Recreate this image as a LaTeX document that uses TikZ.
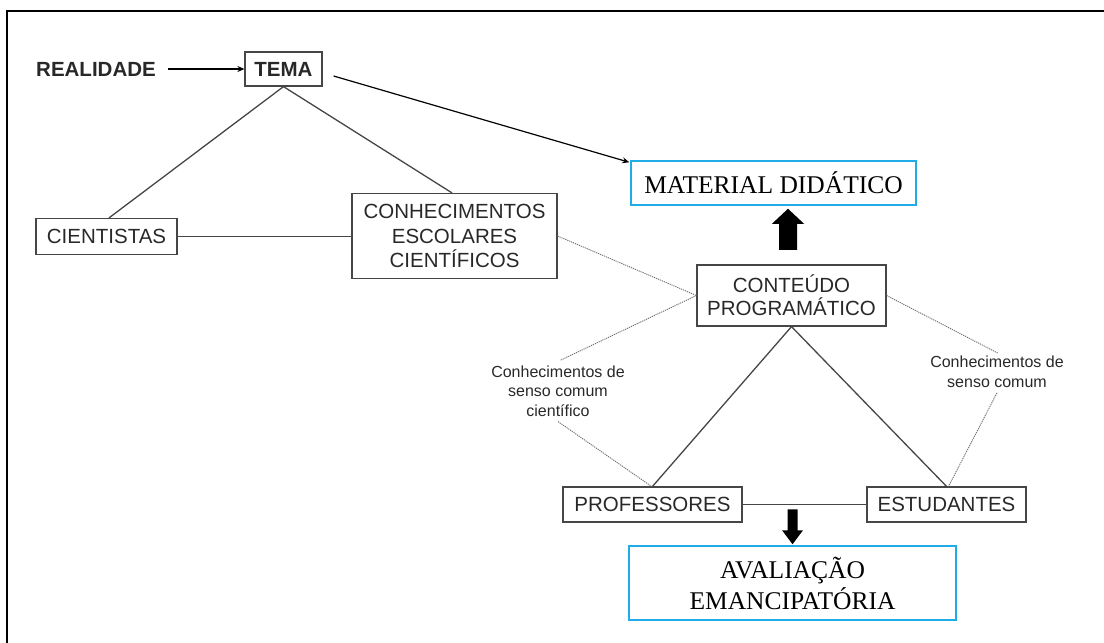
\documentclass[tikz,border=0pt]{standalone}
\usepackage{fontspec}
\setmainfont{Liberation Serif}
\setsansfont{Liberation Sans}
\usetikzlibrary{arrows.meta,calc}
\definecolor{boxline}{RGB}{70,70,70}
\definecolor{skyline}{RGB}{32,172,230}
\definecolor{inkgray}{RGB}{40,40,40}
\definecolor{dotgray}{RGB}{110,110,110}
\begin{document}
\begin{tikzpicture}[x=1pt,y=-1pt,
  plainbox/.style={draw=boxline,line width=1.2pt,inner sep=0pt,align=center,
    text=inkgray,font=\sffamily\fontsize{20.5}{24.5}\selectfont},
  bluebox/.style={draw=skyline,line width=1.5pt,inner sep=0pt,align=center,
    text=black,font=\rmfamily\fontsize{25.5}{31}\selectfont},
  smalllabel/.style={inner sep=2pt,align=center,text=inkgray,
    font=\sffamily\fontsize{16}{19.5}\selectfont},
  solidlink/.style={draw=boxline,line width=1.3pt},
  dotlink/.style={draw=dotgray,line width=0.9pt,dash pattern=on 1.2pt off 0.9pt},
  thinarrow/.style={draw=black,line width=1.2pt,-{Stealth[length=7pt,width=6pt]}}]
\useasboundingbox (0,0) rectangle (1104,643);
% page frame (top and left edges)
\draw[line width=2pt,black] (7,643) -- (7,11) -- (1104,11);

% nodes
\node[inner sep=0pt,font=\sffamily\bfseries\fontsize{20.5}{24}\selectfont,text=inkgray]
  (real) at (96,69) {REALIDADE};
\node[plainbox,font=\sffamily\bfseries\fontsize{20.5}{24}\selectfont,
  minimum width=77pt,minimum height=34pt] (tema) at (283.5,69) {TEMA};
\node[plainbox,minimum width=141pt,minimum height=36pt] (cient) at (106.5,236.5) {CIENTISTAS};
\node[plainbox,minimum width=205pt,minimum height=85pt] (conh) at (454.5,236)
  {CONHECIMENTOS\\ESCOLARES\\CIENTÍFICOS};
\node[bluebox,minimum width=285pt,minimum height=44pt] (mat) at (773.5,183) {MATERIAL DIDÁTICO};
\node[plainbox,minimum width=189pt,minimum height=61pt,
  font=\sffamily\fontsize{20.5}{23}\selectfont] (cont) at (791.5,295.5) {CONTEÚDO\\PROGRAMÁTICO};
\node[smalllabel] (labA) at (558,391) {Conhecimentos de\\senso comum\\científico};
\node[smalllabel] (labB) at (997,372) {Conhecimentos de\\senso comum};
\node[plainbox,minimum width=179pt,minimum height=35pt] (prof) at (652.5,504.5) {PROFESSORES};
\node[plainbox,minimum width=159pt,minimum height=35pt] (est) at (946.5,504.5) {ESTUDANTES};
\node[bluebox,minimum width=327pt,minimum height=74pt] (aval) at (792.5,583)
  {AVALIAÇÃO\\EMANCIPATÓRIA};

% connectors
\draw[thinarrow,shorten <=12pt] (real.east) -- (real.east -| tema.west);
\draw[solidlink] (tema.south) -- ($(cient.north)+(2.5,0)$);
\draw[solidlink] (tema.south) -- ($(conh.north)+(-2.5,0)$);
\draw[thinarrow] ($(tema.east)+(11,7)$) -- ($(mat.north west)+(-1,2)$);
\draw[solidlink] (cient.east) -- (cient.east -| conh.west);
\draw[dotlink] (conh.east) -- (cont.west);
\draw[dotlink] (cont.west) -- ($(labA.north)+(2,-3)$);
\draw[dotlink] ($(labA.south)+(0,3)$) -- ($(prof.north)+(-1,0)$);
\draw[solidlink] (cont.south) -- (prof.north);
\draw[solidlink] (cont.south) -- (est.north);
\draw[dotlink] (cont.east) -- ($(labB.north)+(1,-1)$);
\draw[dotlink] ($(labB.south)+(0,3)$) -- ($(est.north)+(2,0)$);
\draw[solidlink] (prof.east) -- (est.west);

% block arrows
\coordinate (upTip) at ($(mat.south)+(14.5,3)$);
\fill[black] (upTip) -- ++(16,15) -- ++(-7,0) -- ++(0,26) -- ++(-18,0)
  -- ++(0,-26) -- ++(-7,0) -- cycle;
\coordinate (downTip) at ($(aval.north)+(0,-1)$);
\fill[black] (downTip) -- ++(10.5,-14) -- ++(-5.5,0) -- ++(0,-21) -- ++(-10,0)
  -- ++(0,21) -- ++(-5.5,0) -- cycle;
\end{tikzpicture}
\end{document}
